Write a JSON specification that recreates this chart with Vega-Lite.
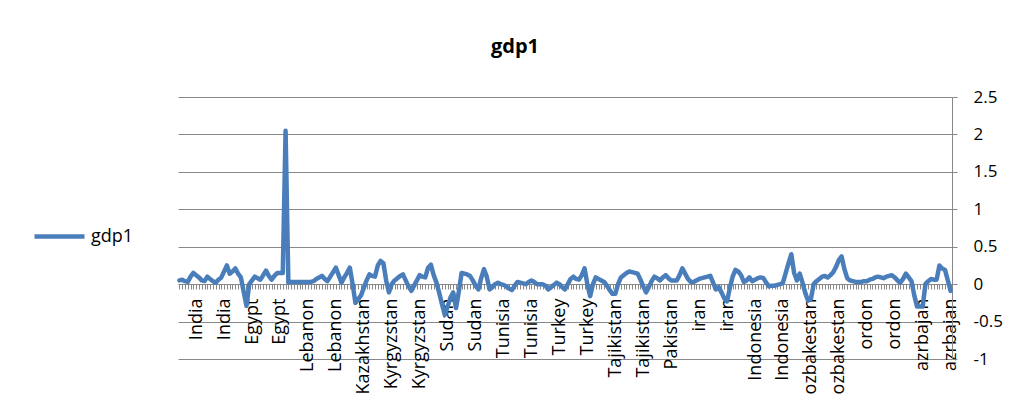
{
  "$schema": "https://vega.github.io/schema/vega-lite/v6.json",
  "width": 774,
  "height": 262,
  "autosize": {"type": "none"},
  "padding": {"left": 178, "top": 97, "right": 57, "bottom": 44},
  "background": "white",
  "title": {"text": "gdp1", "fontSize": 20, "fontWeight": "bold", "font": "Open Sans", "color": "#000000", "anchor": "middle", "frame": "group", "dx": -50, "offset": 15, "baseline": "alphabetic"},
  "config": {"view": {"stroke": null}, "font": "Open Sans"},
  "data": {"values": [
    {"k":"001|","v":0.05},{"k":"002|","v":0.06},{"k":"003|","v":0.04},{"k":"004|","v":0.03},{"k":"005|","v":0.10},
    {"k":"006|","v":0.15},{"k":"007|India","v":0.12},{"k":"008|","v":0.09},{"k":"009|","v":0.05},{"k":"010|","v":0.04},
    {"k":"011|","v":0.10},{"k":"012|","v":0.07},{"k":"013|","v":0.04},{"k":"014|","v":0.02},{"k":"015|","v":0.06},
    {"k":"016|","v":0.09},{"k":"017|India","v":0.17},{"k":"018|","v":0.25},{"k":"019|","v":0.14},{"k":"020|","v":0.17},
    {"k":"021|","v":0.21},{"k":"022|","v":0.14},{"k":"023|","v":0.09},{"k":"024|","v":-0.10},{"k":"025|","v":-0.29},
    {"k":"026|","v":0.00},{"k":"027|Egypt","v":0.05},{"k":"028|","v":0.10},{"k":"029|","v":0.08},{"k":"030|","v":0.06},
    {"k":"031|","v":0.12},{"k":"032|","v":0.18},{"k":"033|","v":0.11},{"k":"034|","v":0.06},{"k":"035|","v":0.11},
    {"k":"036|","v":0.15},{"k":"037|Egypt","v":0.15},{"k":"038|","v":0.15},{"k":"039|","v":2.05},{"k":"040|","v":0.02},
    {"k":"041|","v":0.03},{"k":"042|","v":0.03},{"k":"043|","v":0.03},{"k":"044|","v":0.03},{"k":"045|","v":0.03},
    {"k":"046|","v":0.03},{"k":"047|Lebanon","v":0.03},{"k":"048|","v":0.03},{"k":"049|","v":0.04},{"k":"050|","v":0.07},
    {"k":"051|","v":0.09},{"k":"052|","v":0.11},{"k":"053|","v":0.07},{"k":"054|","v":0.04},{"k":"055|","v":0.10},
    {"k":"056|","v":0.16},{"k":"057|Lebanon","v":0.22},{"k":"058|","v":0.12},{"k":"059|","v":0.02},{"k":"060|","v":0.09},
    {"k":"061|","v":0.15},{"k":"062|","v":0.22},{"k":"063|","v":0.00},{"k":"064|","v":-0.25},{"k":"065|","v":-0.20},
    {"k":"066|","v":-0.15},{"k":"067|Kazakhstan","v":-0.05},{"k":"068|","v":0.05},{"k":"069|","v":0.13},{"k":"070|","v":0.11},
    {"k":"071|","v":0.10},{"k":"072|","v":0.25},{"k":"073|","v":0.31},{"k":"074|","v":0.28},{"k":"075|","v":0.05},
    {"k":"076|","v":-0.11},{"k":"077|Kyrgyzstan","v":0.00},{"k":"078|","v":0.05},{"k":"079|","v":0.08},{"k":"080|","v":0.11},
    {"k":"081|","v":0.13},{"k":"082|","v":0.05},{"k":"083|","v":-0.03},{"k":"084|","v":-0.09},{"k":"085|","v":-0.02},
    {"k":"086|","v":0.05},{"k":"087|Kyrgyzstan","v":0.12},{"k":"088|","v":0.10},{"k":"089|","v":0.09},{"k":"090|","v":0.22},
    {"k":"091|","v":0.26},{"k":"092|","v":0.12},{"k":"093|","v":0.02},{"k":"094|","v":-0.12},{"k":"095|","v":-0.27},
    {"k":"096|","v":-0.41},{"k":"097|Sudan","v":-0.30},{"k":"098|","v":-0.18},{"k":"099|","v":-0.11},{"k":"100|","v":-0.32},
    {"k":"101|","v":-0.10},{"k":"102|","v":0.15},{"k":"103|","v":0.14},{"k":"104|","v":0.13},{"k":"105|","v":0.11},
    {"k":"106|","v":0.05},{"k":"107|Sudan","v":-0.02},{"k":"108|","v":-0.07},{"k":"109|","v":0.08},{"k":"110|","v":0.20},
    {"k":"111|","v":0.10},{"k":"112|","v":-0.07},{"k":"113|","v":-0.04},{"k":"114|","v":0.00},{"k":"115|","v":0.02},
    {"k":"116|","v":0.00},{"k":"117|Tunisia","v":-0.01},{"k":"118|","v":-0.03},{"k":"119|","v":-0.06},{"k":"120|","v":-0.08},
    {"k":"121|","v":-0.02},{"k":"122|","v":0.03},{"k":"123|","v":0.02},{"k":"124|","v":0.01},{"k":"125|","v":0.00},
    {"k":"126|","v":0.03},{"k":"127|Tunisia","v":0.05},{"k":"128|","v":0.03},{"k":"129|","v":0.00},{"k":"130|","v":0.00},
    {"k":"131|","v":0.00},{"k":"132|","v":-0.02},{"k":"133|","v":-0.07},{"k":"134|","v":-0.04},{"k":"135|","v":-0.01},
    {"k":"136|","v":0.02},{"k":"137|Turkey","v":0.00},{"k":"138|","v":-0.04},{"k":"139|","v":-0.07},{"k":"140|","v":0.00},
    {"k":"141|","v":0.07},{"k":"142|","v":0.10},{"k":"143|","v":0.07},{"k":"144|","v":0.06},{"k":"145|","v":0.12},
    {"k":"146|","v":0.21},{"k":"147|Turkey","v":0.00},{"k":"148|","v":-0.16},{"k":"149|","v":0.00},{"k":"150|","v":0.09},
    {"k":"151|","v":0.07},{"k":"152|","v":0.05},{"k":"153|","v":0.03},{"k":"154|","v":-0.02},{"k":"155|","v":-0.08},
    {"k":"156|","v":-0.13},{"k":"157|Tajikistan","v":-0.13},{"k":"158|","v":0.00},{"k":"159|","v":0.09},{"k":"160|","v":0.12},
    {"k":"161|","v":0.15},{"k":"162|","v":0.17},{"k":"163|","v":0.16},{"k":"164|","v":0.15},{"k":"165|","v":0.14},
    {"k":"166|","v":0.06},{"k":"167|Tajikistan","v":-0.03},{"k":"168|","v":-0.11},{"k":"169|","v":-0.04},{"k":"170|","v":0.04},
    {"k":"171|","v":0.10},{"k":"172|","v":0.08},{"k":"173|","v":0.05},{"k":"174|","v":0.09},{"k":"175|","v":0.12},
    {"k":"176|","v":0.08},{"k":"177|Pakistan","v":0.05},{"k":"178|","v":0.05},{"k":"179|","v":0.05},{"k":"180|","v":0.12},
    {"k":"181|","v":0.21},{"k":"182|","v":0.14},{"k":"183|","v":0.07},{"k":"184|","v":0.03},{"k":"185|","v":0.03},
    {"k":"186|","v":0.05},{"k":"187|iran","v":0.07},{"k":"188|","v":0.08},{"k":"189|","v":0.09},{"k":"190|","v":0.10},
    {"k":"191|","v":0.11},{"k":"192|","v":0.02},{"k":"193|","v":-0.07},{"k":"194|","v":-0.04},{"k":"195|","v":-0.11},
    {"k":"196|","v":-0.19},{"k":"197|iran","v":-0.23},{"k":"198|","v":-0.05},{"k":"199|","v":0.10},{"k":"200|","v":0.19},
    {"k":"201|","v":0.17},{"k":"202|","v":0.12},{"k":"203|","v":0.03},{"k":"204|","v":0.05},{"k":"205|","v":0.09},
    {"k":"206|","v":0.04},{"k":"207|Indonesia","v":0.06},{"k":"208|","v":0.08},{"k":"209|","v":0.09},{"k":"210|","v":0.08},
    {"k":"211|","v":0.02},{"k":"212|","v":-0.03},{"k":"213|","v":-0.02},{"k":"214|","v":-0.02},{"k":"215|","v":-0.01},
    {"k":"216|","v":0.00},{"k":"217|Indonesia","v":0.02},{"k":"218|","v":0.15},{"k":"219|","v":0.28},{"k":"220|","v":0.40},
    {"k":"221|","v":0.15},{"k":"222|","v":0.05},{"k":"223|","v":0.14},{"k":"224|","v":0.02},{"k":"225|","v":-0.12},
    {"k":"226|","v":-0.22},{"k":"227|ozbakestan","v":-0.20},{"k":"228|","v":0.00},{"k":"229|","v":0.04},{"k":"230|","v":0.07},
    {"k":"231|","v":0.10},{"k":"232|","v":0.11},{"k":"233|","v":0.09},{"k":"234|","v":0.12},{"k":"235|","v":0.16},
    {"k":"236|","v":0.23},{"k":"237|ozbakestan","v":0.32},{"k":"238|","v":0.37},{"k":"239|","v":0.20},{"k":"240|","v":0.08},
    {"k":"241|","v":0.05},{"k":"242|","v":0.04},{"k":"243|","v":0.03},{"k":"244|","v":0.03},{"k":"245|","v":0.03},
    {"k":"246|","v":0.04},{"k":"247|ordon","v":0.04},{"k":"248|","v":0.06},{"k":"249|","v":0.07},{"k":"250|","v":0.09},
    {"k":"251|","v":0.10},{"k":"252|","v":0.09},{"k":"253|","v":0.08},{"k":"254|","v":0.10},{"k":"255|","v":0.11},
    {"k":"256|","v":0.12},{"k":"257|ordon","v":0.09},{"k":"258|","v":0.05},{"k":"259|","v":0.02},{"k":"260|","v":0.07},
    {"k":"261|","v":0.14},{"k":"262|","v":0.09},{"k":"263|","v":0.04},{"k":"264|","v":-0.15},{"k":"265|","v":-0.30},
    {"k":"266|","v":-0.30},{"k":"267|azrbajan","v":-0.30},{"k":"268|","v":0.00},{"k":"269|","v":0.04},{"k":"270|","v":0.07},
    {"k":"271|","v":0.06},{"k":"272|","v":0.06},{"k":"273|","v":0.25},{"k":"274|","v":0.21},{"k":"275|","v":0.19},
    {"k":"276|","v":0.05},{"k":"277|azrbajan","v":-0.09}
  ]},
  "mark": {"type": "line", "strokeWidth": 4.5, "strokeJoin": "round", "strokeCap": "round"},
  "encoding": {
    "x": {
      "field": "k", "type": "ordinal", "sort": null,
      "scale": {"type": "point", "padding": 0.5},
      "axis": {
        "orient": "bottom", "offset": -75, "title": null,
        "labelExpr": "split(datum.label, '|')[1]",
        "labelAngle": -90, "labelOverlap": false, "labelBound": false, "labelFlush": false,
        "labelFont": "Open Sans", "labelFontSize": 18, "labelColor": "#000000", "labelPadding": 9,
        "tickSize": 5, "tickColor": "#888888", "domainColor": "#888888", "domainWidth": 1, "grid": false
      }
    },
    "y": {
      "field": "v", "type": "quantitative",
      "scale": {"domain": [-1, 2.5], "nice": false, "zero": false},
      "axis": {
        "orient": "right", "title": null,
        "values": [-1, -0.5, 0, 0.5, 1, 1.5, 2, 2.5],
        "labelExpr": "toString(datum.value)",
        "labelFont": "Open Sans", "labelFontSize": 17, "labelColor": "#000000", "labelPadding": 16,
        "tickSize": 5, "tickColor": "#888888", "domainColor": "#888888",
        "grid": true, "gridColor": "#888888", "gridWidth": 1
      }
    },
    "color": {
      "datum": "gdp1", "type": "nominal",
      "scale": {"range": ["#4A7EBB"]},
      "legend": {
        "orient": "none", "legendX": -146, "legendY": 112, "title": null,
        "symbolType": "stroke", "symbolSize": 2500, "symbolStrokeWidth": 4.5,
        "labelFont": "Open Sans", "labelFontSize": 18, "labelColor": "#000000", "labelOffset": 4, "padding": 0
      }
    }
  }
}
